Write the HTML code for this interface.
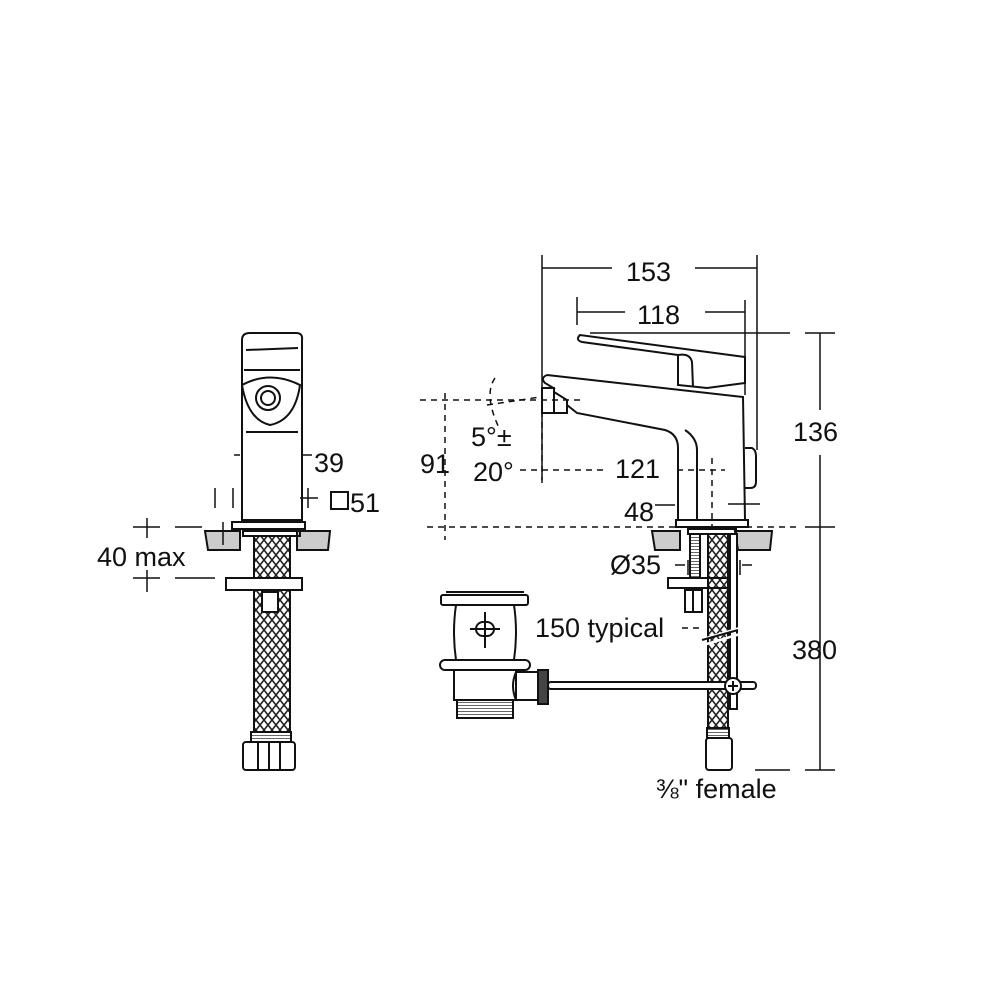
<!DOCTYPE html>
<html><head><style>body{margin:0;background:#fff}svg{display:block}text{font-family:"Liberation Sans",sans-serif;font-size:27px;fill:#111}</style></head><body>
<svg width="1000" height="1000" viewBox="0 0 1000 1000" xmlns="http://www.w3.org/2000/svg">
<defs>
<pattern id="br" width="8" height="10" patternUnits="userSpaceOnUse"><rect width="8" height="10" fill="#fff"/><path d="M0 0 L4 5 L0 10 M8 0 L4 5 L8 10" stroke="#222" stroke-width="1.6" fill="none"/></pattern>
<pattern id="th" width="6" height="3" patternUnits="userSpaceOnUse"><rect width="6" height="3" fill="#fff"/><path d="M0 0 H6" stroke="#333" stroke-width="1.5"/></pattern>
</defs>
<g fill="none" stroke="#111" stroke-width="2">
<!-- LEFT VIEW -->
<path d="M242 340 Q242 333 250 333 L296 333 Q303 333 302 340 L302 520 L242 520 Z"/>
<path d="M244 370 L300 370 M246 350 L298 348"/>
<path d="M242 385 Q270 370 300 385 Q295 420 270 425 Q248 420 242 385 Z"/>
<circle cx="268" cy="398" r="12"/><circle cx="268" cy="398" r="7"/>
<path d="M246 432 L298 432"/>
<rect x="232" y="522" width="73" height="7"/>
<path d="M205 531 L240 531 L240 550 L208 550 Z M297 531 L330 531 L328 550 L297 550 Z" fill="#ccc"/>
<rect x="243" y="531" width="57" height="5"/>
<rect x="254" y="536" width="36" height="42" fill="url(#br)"/>
<rect x="226" y="578" width="76" height="12"/>
<rect x="254" y="590" width="36" height="145" fill="url(#br)"/>
<rect x="262" y="592" width="16" height="20" fill="#fff"/>
<rect x="251" y="732" width="40" height="10" fill="url(#th)"/>
<rect x="243" y="742" width="52" height="28" rx="3"/><path d="M269 742 V770 M258 742 V770 M280 742 V770"/>
<path d="M223 522 V545 M215 488 V508 M233 488 V508 M308 488 V508 M301 455 L312 455 M234 455 L240 455 M300 498 L318 498" stroke-width="1.5"/>
<path d="M133 527 L160 527 M147 518 V538 M175 527 L202 527 M133 578 L160 578 M147 570 V592 M175 578 L215 578" stroke-width="1.5"/>
<rect x="331" y="492" width="17" height="17" stroke-width="2"/>
<!-- RIGHT VIEW -->
<path d="M547 375 L743 397 L745 520 M547 375 Q540 378 545 383 L555 389"/>
<path d="M567 405 L577 413 L665 430 Q678 434 678 448 L678 520"/>
<path d="M697 520 L697 450 Q697 438 685 430"/>
<path d="M580 335 Q575 340 582 342 L678 355 L678 385 L707 388 L745 383 L745 357 Z"/>
<path d="M678 355 Q690 353 692 362 L693 387"/>
<rect x="542" y="388" width="12" height="25"/><path d="M554 392 L567 400 L567 413 L554 413"/>
<path d="M745 448 L752 448 Q756 450 756 456 L756 482 Q756 488 750 488 L745 488"/>
<rect x="676" y="520" width="72" height="7"/>
<path d="M652 531 L680 531 L680 550 L655 550 Z M735 531 L772 531 L770 550 L738 550 Z" fill="#ccc"/>
<rect x="688" y="529" width="48" height="5"/>
<rect x="690" y="534" width="10" height="44" fill="url(#th)"/>
<rect x="708" y="534" width="20" height="200" fill="url(#br)"/>
<rect x="730" y="534" width="7" height="175" fill="#fff"/>
<rect x="668" y="578" width="60" height="10"/>
<rect x="685" y="590" width="17" height="22"/><path d="M693 590 V612"/>
<path d="M700 640 L740 628 M700 646 L740 634" stroke-width="2.5" stroke="#fff"/>
<path d="M702 640 L738 630"/>
<rect x="707" y="728" width="22" height="10" fill="url(#th)"/>
<rect x="706" y="738" width="26" height="32" rx="3"/>
<!-- drain -->
<rect x="441" y="595" width="87" height="10" rx="2"/><path d="M446 592 L524 592"/>
<path d="M456 605 Q452 632 456 660 M514 605 Q518 632 514 660"/>
<rect x="476" y="622" width="18" height="14" rx="7"/><path d="M485 612 V648 M470 629 H500"/>
<rect x="440" y="660" width="90" height="10" rx="5"/>
<path d="M454 670 L454 700 L516 700 L516 670"/>
<rect x="457" y="700" width="56" height="18" fill="url(#th)"/>
<path d="M516 672 L538 672 L538 700 L516 700 Q510 686 516 672"/>
<rect x="538" y="670" width="10" height="34" fill="#444"/>
<rect x="548" y="682" width="208" height="7" rx="3" fill="#fff"/>
<circle cx="733" cy="686" r="8" fill="#fff"/><path d="M728 686 H738 M733 681 V691"/>
<!-- dims -->
<g stroke-width="1.5">
<path d="M542 255 V480 M757 255 V450 M542 268 H612 M695 268 H757"/>
<path d="M577 297 V325 M745 300 V395 M577 312 H625 M705 312 H745"/>
<path d="M590 333 H790 M805 333 H835 M820 333 V410 M820 455 V770 M755 770 H790 M805 770 H835 M805 527 H835"/>
<path d="M728 504 H760 M655 505 H675 M675 565 H685 M688 560 V575 M740 560 V575 M742 565 H752"/>
</g>
<g stroke-width="1.5" stroke-dasharray="6 5">
<path d="M420 400 L585 400 M427 527 L800 527 M520 470 L605 470 M677 470 L725 470 M445 393 V540 M542 400 V488 M712 458 V530 M682 628 H700"/>
<path d="M495 378 Q483 395 500 430"/>
<path d="M487 405 L540 397"/>
</g>
</g>
<text x="314" y="472">39</text>
<text x="350" y="512">51</text>
<text x="97" y="566">40 max</text>
<text x="626" y="281">153</text>
<text x="637" y="324">118</text>
<text x="793" y="441">136</text>
<text x="792" y="659">380</text>
<text x="420" y="473">91</text>
<text x="471" y="446">5°±</text>
<text x="473" y="481">20°</text>
<text x="615" y="478">121</text>
<text x="624" y="521">48</text>
<text x="610" y="574">Ø35</text>
<text x="535" y="637">150 typical</text>
<text x="656" y="798">⅜" female</text>
</svg>
</body></html>
